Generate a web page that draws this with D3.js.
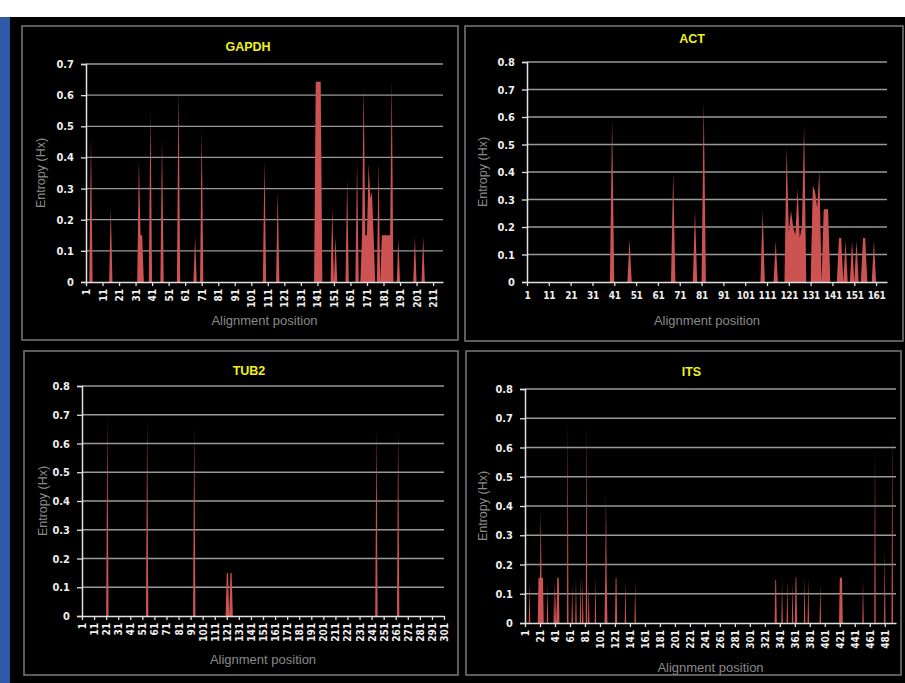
<!DOCTYPE html>
<html>
<head>
<meta charset="utf-8">
<script src="https://cdn.jsdelivr.net/npm/d3@7"></script>
<style>
  html, body { margin: 0; padding: 0; background: #000; }
  svg { display: block; }
</style>
</head>
<body>
<svg id="chart" width="905" height="683"></svg>
<script>
// Shannon entropy (Hx) per alignment position for four loci.
// Only variable positions are listed; every other position has Hx = 0.

const gapdhLength = 217;
const gapdhPositions = [4, 16, 33, 34, 35, 40, 47, 57, 67, 71, 109, 117, 140, 141, 142, 143, 150, 152, 159, 165,
  168, 169, 170, 171, 172, 173, 174, 175, 178, 180, 181, 182, 183, 184, 185, 186, 190, 200, 205];
const gapdhEntropy = [0.46, 0.24, 0.39, 0.15, 0.15, 0.55, 0.46, 0.62, 0.145, 0.49, 0.39, 0.29, 0.643, 0.643, 0.643, 0.643, 0.24, 0.145, 0.33, 0.39,
  0.15, 0.63, 0.15, 0.15, 0.38, 0.27, 0.29, 0.15, 0.385, 0.15, 0.15, 0.15, 0.15, 0.15, 0.15, 0.65, 0.14, 0.145, 0.145];

const actLength = 166;
const actPositions = [40, 48, 68, 78, 82, 109, 115, 120, 121, 122, 123, 124, 125, 126, 127, 128, 132, 133, 134, 135,
  137, 138, 139, 144, 145, 147, 150, 152, 155, 156, 160];
const actEntropy = [0.59, 0.155, 0.40, 0.26, 0.655, 0.26, 0.15, 0.49, 0.18, 0.26, 0.2, 0.17, 0.34, 0.16, 0.2, 0.57, 0.35, 0.33, 0.27, 0.405,
  0.265, 0.265, 0.265, 0.16, 0.16, 0.15, 0.15, 0.15, 0.16, 0.16, 0.15];

const tub2Length = 301;
const tub2Positions = [22, 55, 94, 121, 122, 124, 125, 245, 263];
const tub2Entropy = [0.69, 0.685, 0.66, 0.15, 0.15, 0.15, 0.15, 0.655, 0.65];

const itsLength = 496;
const itsPositions = [7, 19, 20, 21, 22, 23, 24, 25, 31, 40, 42, 44, 45, 46, 58, 64, 69, 75, 78, 83, 86, 95,
  108, 109, 110, 122, 123, 135, 148,
  335, 336, 344, 351, 358, 362, 363, 374, 379, 395, 421, 422, 423, 424, 452, 468, 481, 491];
const itsEntropy = [0.14, 0.155, 0.155, 0.155, 0.39, 0.155, 0.155, 0.155, 0.13, 0.14, 0.12, 0.155, 0.155, 0.155, 0.69, 0.13, 0.155, 0.155, 0.155, 0.69, 0.13, 0.155,
  0.155, 0.44, 0.155, 0.155, 0.155, 0.145, 0.14,
  0.148, 0.148, 0.14, 0.147, 0.135, 0.155, 0.155, 0.155, 0.155, 0.135, 0.155, 0.155, 0.155, 0.155, 0.147, 0.6, 0.25, 0.655];

// Axis settings
const gapdhYMax = 0.7, actYMax = 0.8, tub2YMax = 0.8, itsYMax = 0.8;
const gapdhTickStep = 10, actTickStep = 10, tub2TickStep = 10, itsTickStep = 20;

const yTitle = "Entropy (Hx)";
const xTitle = "Alignment position";

const svg = d3.select("#chart");

// page background: white strip on top, blue strip on the left
svg.append("rect").attr("x", 0).attr("y", 0).attr("width", 905).attr("height", 683).attr("fill", "#000");
svg.append("rect").attr("x", 0).attr("y", 0).attr("width", 905).attr("height", 17).attr("fill", "#fff");
svg.append("rect").attr("x", 0).attr("y", 17).attr("width", 10).attr("height", 666).attr("fill", "#2f5aa8");

const panels = [
  { name: "GAPDH", length: gapdhLength, pos: gapdhPositions, val: gapdhEntropy, yMax: gapdhYMax, step: gapdhTickStep,
    frame: [22, 26, 458, 340], plot: [86, 64, 443, 282], rotate: true, titleY: 48, yTitleX: 42, xTitleY: 322 },
  { name: "ACT", length: actLength, pos: actPositions, val: actEntropy, yMax: actYMax, step: actTickStep,
    frame: [465, 26, 903, 341], plot: [527, 62, 887, 282], rotate: false, titleY: 40, yTitleX: 484, xTitleY: 322 },
  { name: "TUB2", length: tub2Length, pos: tub2Positions, val: tub2Entropy, yMax: tub2YMax, step: tub2TickStep,
    frame: [24, 351, 458, 675], plot: [82, 386, 444, 616], rotate: true, titleY: 372, yTitleX: 44, xTitleY: 661 },
  { name: "ITS", length: itsLength, pos: itsPositions, val: itsEntropy, yMax: itsYMax, step: itsTickStep,
    frame: [466, 351, 901, 675], plot: [525, 389, 896, 623], rotate: true, titleY: 373, yTitleX: 484, xTitleY: 669 }
];

const tickFont = "'DejaVu Sans Condensed', 'DejaVu Sans', sans-serif";
const textFont = "'Liberation Sans', Arial, sans-serif";

panels.forEach(p => {
  const [fx0, fy0, fx1, fy1] = p.frame;
  const [left, top, right, bottom] = p.plot;
  const g = svg.append("g");

  g.append("rect")
    .attr("x", fx0).attr("y", fy0).attr("width", fx1 - fx0).attr("height", fy1 - fy0)
    .attr("fill", "#000").attr("stroke", "#7a7a7a").attr("stroke-width", 1.5);

  const lookup = new Map(p.pos.map((d, i) => [d, p.val[i]]));
  const series = d3.range(1, p.length + 1).map(i => ({ p: i, v: lookup.has(i) ? lookup.get(i) : 0 }));

  const x = d3.scaleLinear().domain([1, p.length]).range([left, right]);
  const y = d3.scaleLinear().domain([0, p.yMax]).range([bottom, top]);
  const yTicks = d3.range(0, Math.round(p.yMax * 10) + 1).map(k => k / 10);

  // horizontal gridlines
  g.append("g").selectAll("line")
    .data(yTicks.filter(t => t > 0))
    .join("line")
    .attr("x1", left).attr("x2", right)
    .attr("y1", d => y(d)).attr("y2", d => y(d))
    .attr("stroke", "#9a9a9a").attr("stroke-width", 1.3);

  // entropy area
  const area = d3.area()
    .x(d => x(d.p))
    .y0(y(0))
    .y1(d => y(d.v));
  g.append("path")
    .datum(series)
    .attr("d", area)
    .attr("fill", "#cd5352");

  // y axis
  const yAxis = g.append("g")
    .attr("transform", `translate(${left},0)`)
    .call(d3.axisLeft(y).tickValues(yTicks).tickSize(5).tickPadding(7)
      .tickFormat(d => d === 0 ? "0" : d3.format(".1f")(d)));
  yAxis.select(".domain").attr("stroke", "#e0e0e0").attr("stroke-width", 1.5);
  yAxis.selectAll(".tick line").attr("stroke", "#e0e0e0").attr("stroke-width", 1.3);
  yAxis.selectAll("text")
    .attr("fill", "#eeeeee").attr("font-family", tickFont).attr("font-weight", "bold").attr("font-size", 11);

  // x axis
  const xTicks = d3.range(1, p.length + 1, p.step);
  const xAxis = g.append("g")
    .attr("transform", `translate(0,${bottom})`)
    .call(d3.axisBottom(x).tickValues(xTicks).tickSize(4).tickSizeOuter(0).tickFormat(d3.format("d")));
  xAxis.select(".domain").attr("stroke", "#e0e0e0").attr("stroke-width", 1.5);
  xAxis.selectAll(".tick line").attr("stroke", "#e0e0e0").attr("stroke-width", 1.3);
  const xt = xAxis.selectAll("text")
    .attr("fill", "#eeeeee").attr("font-family", tickFont).attr("font-weight", "bold");
  if (p.rotate) {
    xt.attr("font-size", 10)
      .attr("transform", "rotate(-90)")
      .attr("x", -7).attr("y", 0).attr("dy", "0.35em")
      .attr("text-anchor", "end");
  } else {
    xt.attr("font-size", 10).attr("letter-spacing", "-0.3px").attr("y", 10).attr("dy", "0.71em");
  }

  // titles
  const cx = (fx0 + fx1) / 2;
  g.append("text")
    .attr("x", cx + 8).attr("y", p.titleY)
    .attr("text-anchor", "middle").attr("dominant-baseline", "middle")
    .attr("fill", "#f2f21a").attr("font-family", textFont).attr("font-weight", "bold").attr("font-size", 12.5)
    .text(p.name);

  g.append("text")
    .attr("transform", `translate(${p.yTitleX},${(top + bottom) / 2}) rotate(-90)`)
    .attr("text-anchor", "middle").attr("dominant-baseline", "middle")
    .attr("fill", "#8a8a8a").attr("font-family", textFont).attr("font-size", 12.5)
    .text(yTitle);

  g.append("text")
    .attr("x", (left + right) / 2).attr("y", p.xTitleY)
    .attr("text-anchor", "middle").attr("dominant-baseline", "middle")
    .attr("fill", "#8a8a8a").attr("font-family", textFont).attr("font-size", 13)
    .text(xTitle);
});
</script>
</body>
</html>
